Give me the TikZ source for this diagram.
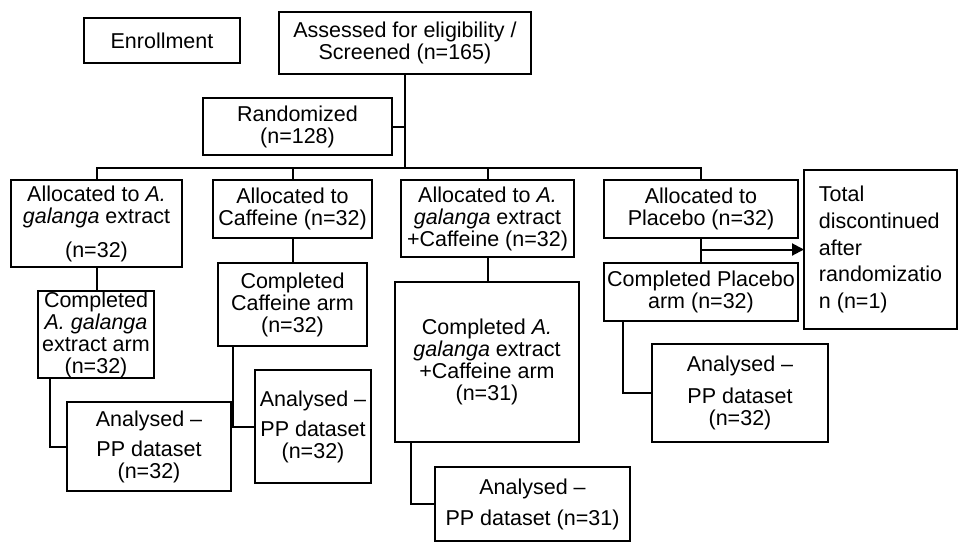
\documentclass[tikz,border=0pt]{standalone}
\usepackage{fontspec}
\setmainfont{Liberation Sans}
\usetikzlibrary{arrows.meta}

\begin{document}
\begin{tikzpicture}[x=0.5pt,y=-0.5pt,
  line width=1pt,flow box/.style={rectangle,draw,inner sep=0pt,outer sep=0pt,align=center,font=\fontsize{10.75}{11}\selectfont}]

  \useasboundingbox (0,0) rectangle (958,542);

  \node[flow box,minimum width=78pt,minimum height=22.5pt] (enrol) at (162,40.5) {Enrollment};
  \node[flow box,minimum width=126pt,minimum height=31pt] (screen) at (405,43) {Assessed for eligibility /\\Screened (n=165)};
  \node[flow box,minimum width=94.5pt,minimum height=28.5pt] (rand) at (297.5,126.5) {Randomized\\(n=128)};

  \node[flow box,minimum width=85.5pt,minimum height=43.5pt] (allocA) at (96.5,223.5) {Allocated to \textit{A.}\\\textit{galanga} extract\\[6pt](n=32)};
  \node[flow box,minimum width=79.5pt,minimum height=29pt] (allocC) at (292.5,209) {Allocated to\\Caffeine (n=32)};
  \node[flow box,minimum width=86.5pt,minimum height=38.5pt] (allocAC) at (487.5,218.5) {Allocated to \textit{A.}\\\textit{galanga} extract\\+Caffeine (n=32)};
  \node[flow box,minimum width=97pt,minimum height=29pt] (allocP) at (701,209) {Allocated to\\Placebo (n=32)};
  \node[flow box,minimum width=76.5pt,minimum height=79.5pt,align=left,font=\fontsize{10.75}{13.3}\selectfont] (lost) at (880.5,249.5) {Total\\discontinued\\after\\randomizatio\\n (n=1)};

  \node[flow box,minimum width=58pt,minimum height=42.5pt] (compA) at (96,334.5) {Completed\\\textit{A. galanga}\\extract arm\\(n=32)};
  \node[flow box,minimum width=74.5pt,minimum height=41.5pt] (compC) at (292.5,304.5) {Completed\\Caffeine arm\\(n=32)};
  \node[flow box,minimum width=92pt,minimum height=80pt] (compAC) at (487,362) {Completed \textit{A.}\\\textit{galanga} extract\\+Caffeine arm\\(n=31)};
  \node[flow box,minimum width=97pt,minimum height=29pt] (compP) at (701,292) {Completed Placebo\\arm (n=32)};

  \node[flow box,minimum width=82pt,minimum height=44.5pt] (anaA) at (149,446.5) {Analysed –\\[4pt]PP dataset\\(n=32)};
  \node[flow box,minimum width=58pt,minimum height=56.5pt] (anaC) at (313,426.5) {Analysed –\\[4pt]PP dataset\\(n=32)};
  \node[flow box,minimum width=97.5pt,minimum height=37pt] (anaAC) at (532.5,504) {Analysed –\\[4.5pt]PP dataset (n=31)};
  \node[flow box,minimum width=88pt,minimum height=49pt] (anaP) at (740,393) {Analysed –\\[5pt]PP dataset\\(n=32)};

  \coordinate (split) at (screen.south |- 0,168);
  \draw (screen.south) -- (split);
  \draw (rand.east) -- (rand.east -| split);
  \draw (allocA.north) |- (split) -| (allocP.north);
  \draw (allocC.north) -- (allocC.north |- split);
  \draw (allocAC.north) -- (allocAC.north |- split);

  \draw (allocA.south) -- (allocA.south |- compA.north);
  \draw (allocC.south) -- (allocC.south |- compC.north);
  \draw (allocAC.south) -- (allocAC.south |- compAC.north);
  \draw (allocP.south) -- (allocP.south |- compP.north);
  \draw[-{Triangle[length=6pt,width=6pt]}] (allocP.south |- lost.west) -- (lost.west);

  \draw ([xshift=6pt]compA.south west) |- (anaA.west);
  \draw ([xshift=7.5pt]compC.south west) |- (anaC.west);
  \draw ([xshift=8pt]compAC.south west) |- (anaAC.west);
  \draw ([xshift=9.5pt]compP.south west) |- (anaP.west);
\end{tikzpicture}
\end{document}
